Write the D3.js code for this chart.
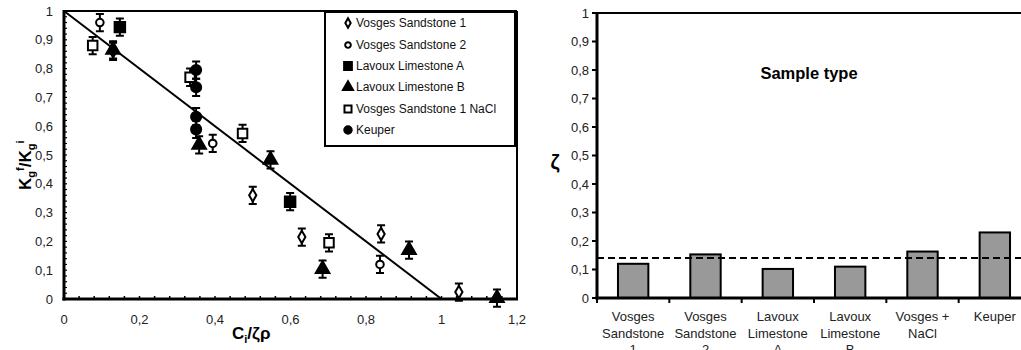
<!DOCTYPE html>
<html lang="en">
<head>
<meta charset="UTF-8">
<script src="https://cdn.jsdelivr.net/npm/d3@7"></script>
<style>
  body { margin: 0; background: white; }
  svg { display: block; font-family: Arial, "Liberation Sans", sans-serif; }
</style>
</head>
<body>
<script>
/*------------------ data ------------------*/
// left chart: Kg ratio vs Ci/zeta.rho, one array per sample
const seriesNames = ["Vosges Sandstone 1", "Vosges Sandstone 2", "Lavoux Limestone A",
                     "Lavoux Limestone B", "Vosges Sandstone 1 NaCl", "Keuper"];
const vs1X = [0.13, 0.50, 0.63, 0.84, 1.046];
const vs1Y = [0.86, 0.36, 0.215, 0.226, 0.024];
const vs2X = [0.095, 0.394, 0.837];
const vs2Y = [0.96, 0.54, 0.12];
const llaX = [0.148, 0.599];
const llaY = [0.944, 0.338];
const llbX = [0.13, 0.358, 0.547, 0.685, 0.914, 1.147];
const llbY = [0.865, 0.535, 0.483, 0.104, 0.17, 0.003];
const naclX = [0.076, 0.334, 0.473, 0.702];
const naclY = [0.88, 0.77, 0.575, 0.195];
const keuX = [0.35, 0.35, 0.35, 0.35];
const keuY = [0.795, 0.735, 0.633, 0.589];
const errBar = 0.03;
const fitLine = [[0, 1], [1, 0]];
const xTicksL = [0, 0.2, 0.4, 0.6, 0.8, 1, 1.2];
const yTicksL = [0, 0.1, 0.2, 0.3, 0.4, 0.5, 0.6, 0.7, 0.8, 0.9, 1];

// right chart: zeta per sample type
const sampleLabels = [["Vosges", "Sandstone", "1"], ["Vosges", "Sandstone", "2"],
                      ["Lavoux", "Limestone", "A"], ["Lavoux", "Limestone", "B"],
                      ["Vosges +", "NaCl"], ["Keuper"]];
const zetaValues = [0.12, 0.153, 0.102, 0.11, 0.163, 0.23];
const zetaMean = 0.14;
const yTicksR = [0, 0.1, 0.2, 0.3, 0.4, 0.5, 0.6, 0.7, 0.8, 0.9, 1];

const fmt = d => String(d).replace(".", ",");

const svg = d3.select("body").append("svg").attr("width", 1021).attr("height", 350);

/*------------------ left chart ------------------*/
const x = d3.scaleLinear().domain([0, 1.2]).range([64, 517]);
const y = d3.scaleLinear().domain([0, 1]).range([299, 11]);

const left = svg.append("g");

// minor inward ticks (Excel style)
left.append("g").selectAll("line").data(d3.range(0, 1.2001, 0.04)).join("line")
  .attr("x1", d => x(d)).attr("x2", d => x(d))
  .attr("y1", y(0)).attr("y2", y(0) - 3)
  .attr("stroke", "black").attr("stroke-width", 1.5);
left.append("g").selectAll("line").data(d3.range(0, 1.0001, 0.02)).join("line")
  .attr("x1", x(0)).attr("x2", x(0) + 3)
  .attr("y1", d => y(d)).attr("y2", d => y(d))
  .attr("stroke", "black").attr("stroke-width", 1.2);

// frame
left.append("line").attr("x1", x(0)).attr("x2", x(1.2)).attr("y1", y(1)).attr("y2", y(1))
  .attr("stroke", "black").attr("stroke-width", 2);
left.append("line").attr("x1", x(1.2)).attr("x2", x(1.2)).attr("y1", y(1)).attr("y2", y(0))
  .attr("stroke", "black").attr("stroke-width", 2);
left.append("line").attr("x1", x(0)).attr("x2", x(0)).attr("y1", y(1) - 1).attr("y2", y(0) + 1.5)
  .attr("stroke", "black").attr("stroke-width", 3);
left.append("line").attr("x1", x(0) - 1.5).attr("x2", x(1.2) + 1).attr("y1", y(0)).attr("y2", y(0))
  .attr("stroke", "black").attr("stroke-width", 3);

// tick labels
left.append("g").selectAll("text").data(yTicksL).join("text")
  .attr("x", 53).attr("y", d => y(d) + 4.5)
  .attr("text-anchor", "end").attr("font-size", 13).attr("fill", "#222")
  .text(fmt);
left.append("g").selectAll("text").data(xTicksL).join("text")
  .attr("x", d => x(d)).attr("y", 324)
  .attr("text-anchor", "middle").attr("font-size", 13).attr("fill", "#222")
  .text(fmt);

// axis titles
const xt = left.append("text").attr("x", 232).attr("y", 339)
  .attr("font-size", 17).attr("font-weight", "bold");
xt.append("tspan").text("C");
xt.append("tspan").attr("font-size", 11).attr("dy", 4).text("i");
xt.append("tspan").attr("dy", -4).text("/ζρ");

const yt = left.append("text").attr("transform", "translate(31,190) rotate(-90)")
  .attr("font-size", 17).attr("font-weight", "bold");
yt.append("tspan").text("K");
yt.append("tspan").attr("font-size", 11).attr("dy", 4).text("g");
yt.append("tspan").attr("font-size", 11).attr("dy", -11).text("f");
yt.append("tspan").attr("dy", 7).text("/K");
yt.append("tspan").attr("font-size", 11).attr("dy", 4).text("g");
yt.append("tspan").attr("font-size", 11).attr("dy", -11).text("i");

// fit line
left.append("path")
  .attr("d", d3.line().x(d => x(d[0])).y(d => y(d[1]))(fitLine))
  .attr("stroke", "black").attr("stroke-width", 2).attr("fill", "none");

const series = [
  { xs: vs1X, ys: vs1Y, type: d3.symbolDiamond, size: 45, fill: "white" },
  { xs: vs2X, ys: vs2Y, type: d3.symbolCircle, size: 45, fill: "white" },
  { xs: llaX, ys: llaY, type: d3.symbolSquare, size: 110, fill: "black" },
  { xs: llbX, ys: llbY, type: d3.symbolTriangle, size: 80, fill: "black" },
  { xs: naclX, ys: naclY, type: d3.symbolSquare, size: 90, fill: "white" },
  { xs: keuX, ys: keuY, type: d3.symbolCircle, size: 80, fill: "black" }
];

series.forEach(s => {
  const pts = s.xs.map((v, i) => [v, s.ys[i]]);
  const g = left.append("g");
  // error bars
  g.selectAll("path.err").data(pts).join("path").attr("class", "err")
    .attr("d", d => {
      const cx = x(d[0]), t = y(d[1] + errBar), b = y(d[1] - errBar);
      return `M${cx - 4},${t}H${cx + 4}M${cx},${t}V${b}M${cx - 4},${b}H${cx + 4}`;
    })
    .attr("stroke", "black").attr("stroke-width", 2).attr("fill", "none");
  g.selectAll("path.mk").data(pts).join("path").attr("class", "mk")
    .attr("transform", d => `translate(${x(d[0])},${y(d[1])})`)
    .attr("d", d3.symbol().type(s.type).size(s.size))
    .attr("fill", s.fill).attr("stroke", "black").attr("stroke-width", 2);
});

// legend
const lg = left.append("g");
lg.append("rect").attr("x", 325).attr("y", 12).attr("width", 190).attr("height", 134)
  .attr("fill", "white").attr("stroke", "black").attr("stroke-width", 2);
const legY = [23, 45, 66, 87, 109, 130];
series.forEach((s, i) => {
  lg.append("path")
    .attr("transform", `translate(348,${legY[i]})`)
    .attr("d", d3.symbol().type(s.type).size(s.size * 0.55))
    .attr("fill", s.fill).attr("stroke", "black").attr("stroke-width", 2);
  lg.append("text").attr("x", 356).attr("y", legY[i] + 4)
    .attr("font-size", 12).attr("fill", "#111").text(seriesNames[i]);
});

/*------------------ right chart ------------------*/
const xb = d3.scaleBand().domain(d3.range(zetaValues.length)).range([597, 1031]).paddingInner(0.58).paddingOuter(0.29);
const yr = d3.scaleLinear().domain([0, 1]).range([298, 13]);
const bandStep = xb.step();

const right = svg.append("g");

right.append("line").attr("x1", 597).attr("x2", 1021).attr("y1", yr(1)).attr("y2", yr(1))
  .attr("stroke", "black").attr("stroke-width", 2);

right.append("g").selectAll("rect").data(zetaValues).join("rect")
  .attr("x", (d, i) => xb(i)).attr("width", xb.bandwidth())
  .attr("y", d => yr(d)).attr("height", d => yr(0) - yr(d))
  .attr("fill", "#999999").attr("stroke", "black").attr("stroke-width", 2);

right.append("line").attr("x1", 597).attr("x2", 1021).attr("y1", yr(zetaMean)).attr("y2", yr(zetaMean))
  .attr("stroke", "black").attr("stroke-width", 2).attr("stroke-dasharray", "7,4");

// axes
right.append("line").attr("x1", 597).attr("x2", 597).attr("y1", yr(1) - 1).attr("y2", yr(0) + 1.5)
  .attr("stroke", "black").attr("stroke-width", 3);
right.append("line").attr("x1", 595.5).attr("x2", 1021).attr("y1", yr(0)).attr("y2", yr(0))
  .attr("stroke", "black").attr("stroke-width", 3);
right.append("g").selectAll("line").data(yTicksR).join("line")
  .attr("x1", 592).attr("x2", 597).attr("y1", d => yr(d)).attr("y2", d => yr(d))
  .attr("stroke", "black").attr("stroke-width", 2);
right.append("g").selectAll("line").data(d3.range(zetaValues.length + 1)).join("line")
  .attr("x1", i => 597 + i * bandStep).attr("x2", i => 597 + i * bandStep)
  .attr("y1", yr(0)).attr("y2", yr(0) + 5)
  .attr("stroke", "black").attr("stroke-width", 2);

right.append("g").selectAll("text").data(yTicksR).join("text")
  .attr("x", 589).attr("y", d => yr(d) + 4.5)
  .attr("text-anchor", "end").attr("font-size", 13).attr("fill", "#222")
  .text(fmt);

right.append("g").selectAll("text").data(sampleLabels).join("text")
  .attr("text-anchor", "middle").attr("font-size", 13).attr("fill", "#222")
  .each(function (lines, i) {
    d3.select(this).selectAll("tspan").data(lines).join("tspan")
      .attr("x", xb(i) + xb.bandwidth() / 2)
      .attr("y", (d, j) => 321 + j * 16.5)
      .text(d => d);
  });

right.append("text").attr("x", 555).attr("y", 169).attr("text-anchor", "middle")
  .attr("font-size", 20).attr("font-weight", "bold").text("ζ");
right.append("text").attr("x", 809).attr("y", 79).attr("text-anchor", "middle")
  .attr("font-size", 16.5).attr("font-weight", "bold").text("Sample type");
</script>
</body>
</html>
